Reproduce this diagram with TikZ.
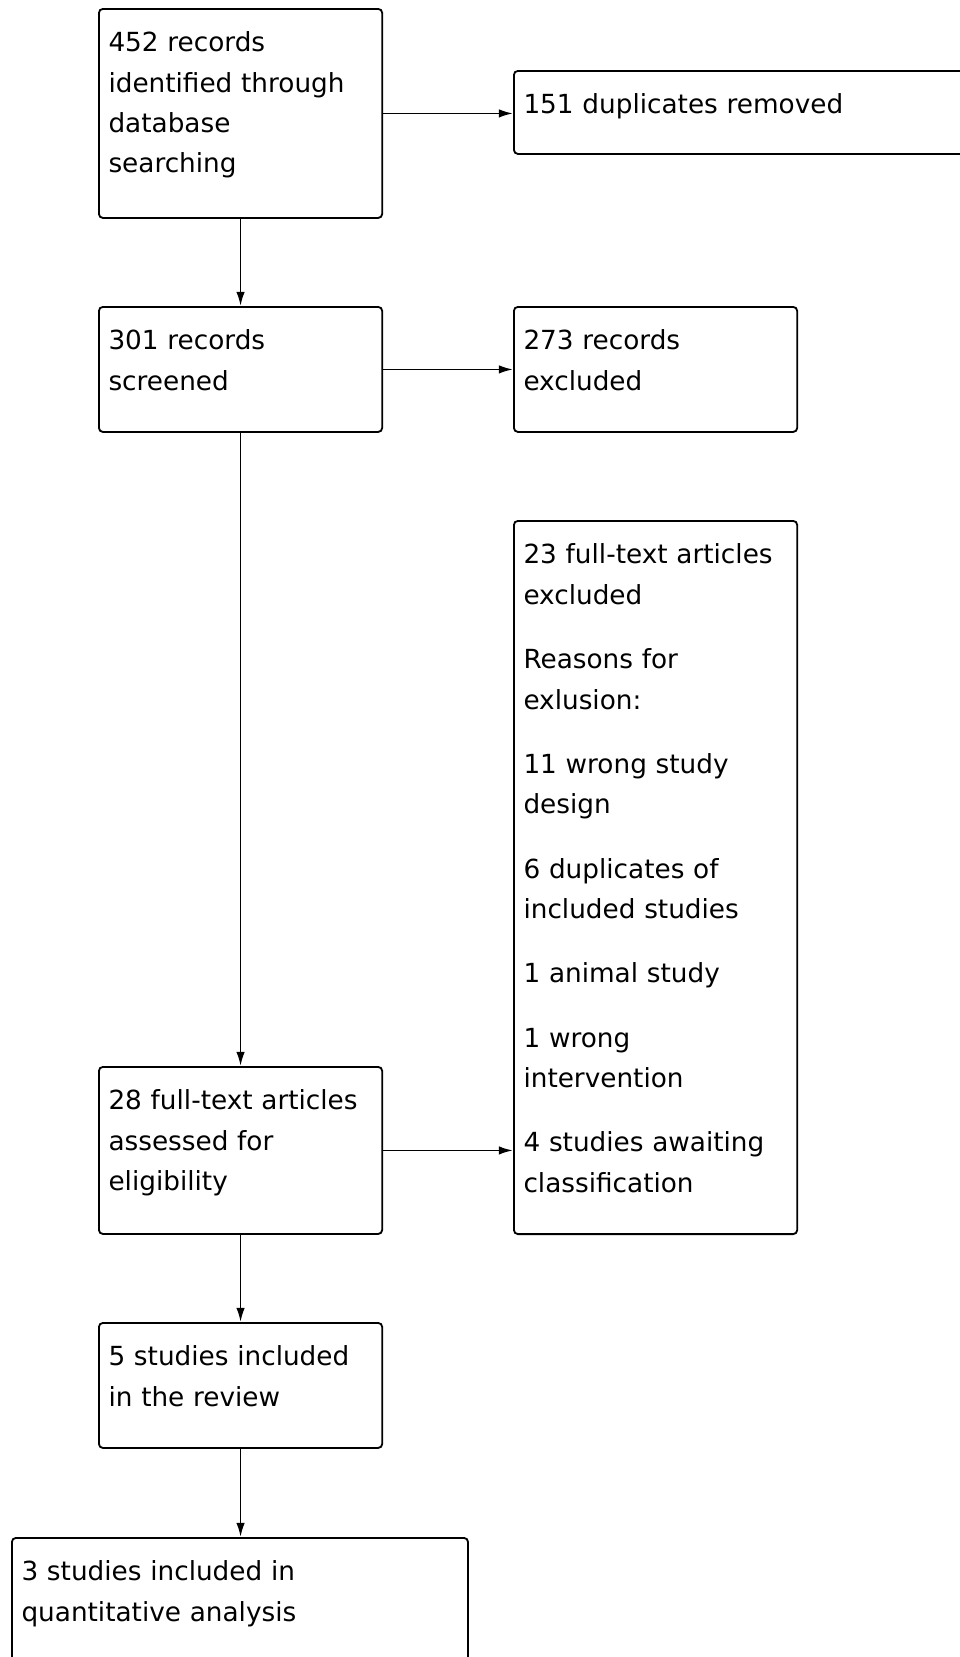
\documentclass[tikz,border=0pt]{standalone}
\usepackage{fontspec}
\setmainfont{DejaVu Sans}
\usetikzlibrary{arrows.meta}

\begin{document}
\begin{tikzpicture}[x=0.025cm, y=-0.025cm]
		\tikzstyle{Box}  = [draw, rounded corners=0.1cm, line width=1.3pt, anchor=north west, align=left, inner xsep=0.24cm, inner ysep=0pt, text width=6.6cm, text height=1.075cm, font=\fontsize{18.7pt}{28.7pt}\selectfont]
		\tikzstyle{Wide} = [text width=10.92cm]
		\tikzstyle{Flow} = [-{Latex[length=10pt, width=6pt]}, line width=1.3pt]

		\useasboundingbox (0, 0) rectangle (960, 1657);

		\node (ident) at (98, 8) [Box, text depth=4.15cm] {452 records\\ identified through\\ database\\ searching};
		\node (dupl) at (513, 70) [Box, text depth=1cm, text width=11.7cm] {151 duplicates removed};
		\node (screen) at (98, 306) [Box, text depth=2.05cm] {301 records\\ screened};
		\node (recexcl) at (513, 306) [Box, text depth=2.05cm] {273 records\\ excluded};
		\node (ftexcl) at (513, 520) [Box, text depth=16.75cm] {23 full-text articles\\ excluded\\[0.6cm]
			Reasons for\\ exlusion:\\[0.6cm]
			11 wrong study\\ design\\[0.6cm]
			6 duplicates of\\ included studies\\[0.6cm]
			1 animal study\\[0.6cm]
			1 wrong\\ intervention\\[0.6cm]
			4 studies awaiting\\ classification};
		\node (assess) at (98, 1066) [Box, text depth=3.1cm] {28 full-text articles\\ assessed for\\ eligibility};
		\node (incl) at (98, 1322) [Box, text depth=2.05cm] {5 studies included\\ in the review};
		\node (quant) at (11, 1537) [Box][Wide, text depth=3.1cm] {3 studies included in\\ quantitative analysis};

		\draw [Flow] (ident) to (ident -| dupl.west);
		\draw [Flow] (ident) to (screen);
		\draw [Flow] (screen) to (screen -| recexcl.west);
		\draw [Flow] (screen) to (assess);
		\draw [Flow] (assess) to (assess -| ftexcl.west);
		\draw [Flow] (assess) to (incl);
		\draw [Flow] (incl) to (incl |- quant.north);
	\end{tikzpicture}
\end{document}
